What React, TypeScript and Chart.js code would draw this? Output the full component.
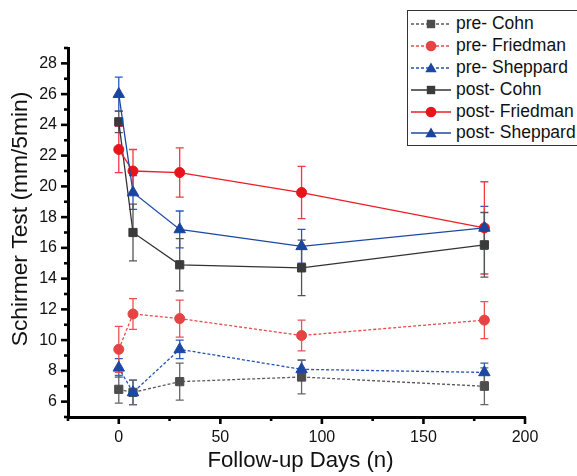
import React, { useEffect, useRef } from "react";
import { Chart, registerables } from "chart.js";

Chart.register(...registerables);

const FONT = "'Liberation Sans', Arial, Helvetica, sans-serif";

const days = [0, 7, 30, 90, 180];

const preCohn = [6.8, 6.6, 7.3, 7.6, 7.0];
const preCohnErr = [0.9, 0.8, 1.2, 1.1, 1.2];
const preFriedman = [9.4, 11.7, 11.4, 10.3, 11.3];
const preFriedmanErr = [1.5, 1.0, 1.2, 1.0, 1.2];
const preSheppard = [8.2, 6.6, 9.4, 8.1, 7.9];
const preSheppardErr = [0.6, 0.8, 0.6, 0.6, 0.6];
const postCohn = [24.2, 17.0, 14.9, 14.7, 16.2];
const postCohnErr = [0.7, 1.85, 1.7, 1.8, 2.1];
const postFriedman = [22.4, 21.0, 20.9, 19.6, 17.3];
const postFriedmanErr = [1.5, 1.4, 1.6, 1.7, 3.0];
const postSheppard = [26.0, 19.6, 17.2, 16.1, 17.3];
const postSheppardErr = [1.1, 1.1, 1.2, 1.1, 1.4];

const xTickLabels = [0, 50, 100, 150, 200];
const yTickLabels = [6, 8, 10, 12, 14, 16, 18, 20, 22, 24, 26, 28];

const xTitle = "Follow-up Days (n)";
const yTitle = "Schirmer Test (mm/5min)";

type Series = {
  label: string;
  values: number[];
  errors: number[];
  line: string;
  fill: string;
  err: string;
  dashed: boolean;
  shape: "rect" | "circle" | "triangle";
};

const series: Series[] = [
  { label: "pre- Cohn", values: preCohn, errors: preCohnErr, line: "#5a5a5a", fill: "#4d4d4d", err: "#666666", dashed: true, shape: "rect" },
  { label: "pre- Friedman", values: preFriedman, errors: preFriedmanErr, line: "#e84a4a", fill: "#e64444", err: "#ee5050", dashed: true, shape: "circle" },
  { label: "pre- Sheppard", values: preSheppard, errors: preSheppardErr, line: "#2352b3", fill: "#1c47a3", err: "#2c5cc2", dashed: true, shape: "triangle" },
  { label: "post- Cohn", values: postCohn, errors: postCohnErr, line: "#333333", fill: "#3a3a3a", err: "#555555", dashed: false, shape: "rect" },
  { label: "post- Friedman", values: postFriedman, errors: postFriedmanErr, line: "#ee1c25", fill: "#e8141c", err: "#f03a44", dashed: false, shape: "circle" },
  { label: "post- Sheppard", values: postSheppard, errors: postSheppardErr, line: "#1c4aa3", fill: "#1a459e", err: "#2a5ac0", dashed: false, shape: "triangle" },
];

const radiusFor = (s: string) => (s === "rect" ? 5.8 : s === "circle" ? 5 : 6.6);

const errorBarPlugin = {
  id: "errorBars",
  beforeDatasetsDraw(chart: any) {
    const { ctx, scales } = chart;
    const x = scales.x;
    const y = scales.y;
    ctx.save();
    chart.data.datasets.forEach((ds: any) => {
      ctx.strokeStyle = ds.errColor;
      ctx.lineWidth = 1.3;
      ctx.setLineDash([]);
      ds.data.forEach((pt: any, j: number) => {
        const e = ds.errors[j];
        const px = x.getPixelForValue(pt.x);
        const top = y.getPixelForValue(pt.y + e);
        const bot = y.getPixelForValue(pt.y - e);
        const cw = 4;
        ctx.beginPath();
        ctx.moveTo(px, top);
        ctx.lineTo(px, bot);
        ctx.moveTo(px - cw, top);
        ctx.lineTo(px + cw, top);
        ctx.moveTo(px - cw, bot);
        ctx.lineTo(px + cw, bot);
        ctx.stroke();
      });
    });
    ctx.restore();
  },
};

const axisDecorPlugin = {
  id: "axisDecor",
  afterDraw(chart: any) {
    const { ctx, scales, chartArea } = chart;
    const x = scales.x;
    const y = scales.y;
    ctx.save();
    ctx.strokeStyle = "#000";
    ctx.lineWidth = 2.6;
    for (const t of x.ticks) {
      const px = x.getPixelForValue(t.value);
      const major = xTickLabels.includes(t.value);
      const len = major ? 7 : 4;
      ctx.beginPath();
      ctx.moveTo(px, chartArea.bottom);
      ctx.lineTo(px, chartArea.bottom + len);
      ctx.stroke();
    }
    for (const t of y.ticks) {
      const py = y.getPixelForValue(t.value);
      const major = yTickLabels.includes(t.value);
      const len = major ? 7 : 4;
      ctx.beginPath();
      ctx.moveTo(chartArea.left, py);
      ctx.lineTo(chartArea.left - len, py);
      ctx.stroke();
    }
    // axis titles
    ctx.fillStyle = "#111";
    ctx.textAlign = "center";
    ctx.textBaseline = "middle";
    ctx.font = `22.2px ${FONT}`;
    ctx.fillText(xTitle, 300.5, 461);
    ctx.font = `22.8px ${FONT}`;
    ctx.translate(20.5, 219);
    ctx.rotate(-Math.PI / 2);
    ctx.fillText(yTitle, 0, 0);
    ctx.restore();
  },
};

function Marker({ s }: { s: Series }) {
  const cx = 20;
  const cy = 11;
  const line = (
    <line
      x1={0}
      y1={cy}
      x2={40}
      y2={cy}
      stroke={s.line}
      strokeWidth={1.3}
      strokeDasharray={s.dashed ? "3 2" : undefined}
    />
  );
  let mark;
  if (s.shape === "rect") {
    mark = <rect x={cx - 4.2} y={cy - 4.2} width={8.4} height={8.4} fill={s.fill} />;
  } else if (s.shape === "circle") {
    mark = <circle cx={cx} cy={cy} r={5.3} fill={s.fill} />;
  } else {
    const r = 6.6;
    const pts = [0, 1, 2]
      .map((k) => {
        const a = (k * 2 * Math.PI) / 3;
        return `${cx + Math.sin(a) * r},${cy + 1 - Math.cos(a) * r}`;
      })
      .join(" ");
    mark = <polygon points={pts} fill={s.fill} />;
  }
  return (
    <svg width={40} height={22} style={{ display: "block" }}>
      {line}
      {mark}
    </svg>
  );
}

export default function App() {
  const canvasRef = useRef<HTMLCanvasElement | null>(null);

  useEffect(() => {
    if (!canvasRef.current) return;
    Chart.defaults.font.family = FONT;
    const datasets = series
      .slice()
      .reverse()
      .map((s) => ({
        label: s.label,
        data: days.map((d, i) => ({ x: d, y: s.values[i] })),
        errors: s.errors,
        errColor: s.err,
        borderColor: s.line,
        borderWidth: 1.3,
        borderDash: s.dashed ? [3, 2] : [],
        backgroundColor: s.fill,
        pointBackgroundColor: s.fill,
        pointBorderColor: s.fill,
        pointBorderWidth: 1,
        pointStyle: s.shape,
        pointRadius: radiusFor(s.shape),
        pointHoverRadius: radiusFor(s.shape),
        tension: 0,
        fill: false,
      }));

    const chart = new Chart(canvasRef.current, {
      type: "line",
      data: { datasets } as any,
      options: {
        responsive: false,
        animation: false,
        events: [],
        layout: { padding: { top: 48, right: 52, left: 0, bottom: 0 } },
        plugins: {
          legend: { display: false },
          tooltip: { enabled: false },
        },
        scales: {
          x: {
            type: "linear",
            min: -25,
            max: 200,
            afterFit: (s: any) => {
              s.height = 59;
            },
            grid: { display: true, drawOnChartArea: false, drawTicks: false },
            border: { display: true, width: 3, color: "#000" },
            ticks: {
              stepSize: 25,
              autoSkip: false,
              maxRotation: 0,
              padding: 11,
              color: "#111",
              font: { size: 16, family: FONT },
              callback: (v: any) => (xTickLabels.includes(Number(v)) ? String(v) : ""),
            },
          },
          y: {
            type: "linear",
            min: 5,
            max: 29,
            afterFit: (s: any) => {
              s.width = 68;
            },
            grid: { display: true, drawOnChartArea: false, drawTicks: false },
            border: { display: true, width: 3, color: "#000" },
            ticks: {
              stepSize: 1,
              autoSkip: false,
              padding: 11,
              color: "#111",
              font: { size: 16, family: FONT },
              callback: (v: any) => (yTickLabels.includes(Number(v)) ? String(v) : ""),
            },
          },
        },
      } as any,
      plugins: [errorBarPlugin, axisDecorPlugin],
    });
    return () => chart.destroy();
  }, []);

  return (
    <div style={{ position: "absolute", left: 0, top: 0, width: 577, height: 476, background: "#fff" }}>
      <canvas ref={canvasRef} width={577} height={476} style={{ display: "block" }} />
      <div
        style={{
          position: "absolute",
          left: 407,
          top: 10,
          width: 172,
          height: 136,
          boxSizing: "border-box",
          border: "1.3px solid #333",
          background: "#fff",
          paddingTop: 2,
          fontFamily: FONT,
          fontSize: 17.5,
          color: "#111",
        }}
      >
        {series.map((s) => (
          <div key={s.label} style={{ display: "flex", alignItems: "center", height: 21.9, paddingLeft: 3 }}>
            <Marker s={s} />
            <span style={{ marginLeft: 5, whiteSpace: "nowrap", lineHeight: "21.9px" }}>{s.label}</span>
          </div>
        ))}
      </div>
    </div>
  );
}
